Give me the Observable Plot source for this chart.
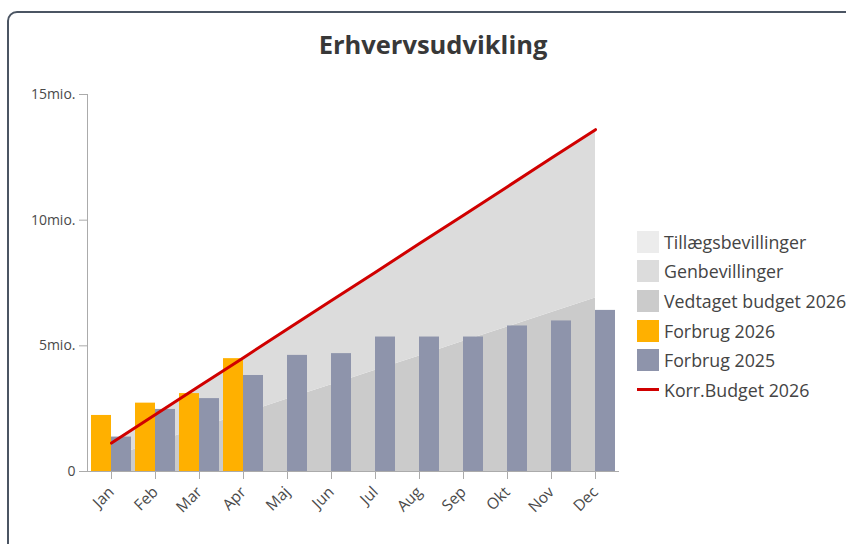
<!DOCTYPE html>
<html>
<head>
<meta charset="utf-8">
<script src="https://cdn.jsdelivr.net/npm/d3@7"></script>
<script src="https://cdn.jsdelivr.net/npm/@observablehq/plot@0.6"></script>
<style>
  html, body { margin: 0; padding: 0; background: #fff; width: 846px; height: 544px; overflow: hidden; }
  body { position: relative; font-family: "Open Sans", "Noto Sans", sans-serif; }
  #frame { position: absolute; left: 7px; top: 11px; width: 900px; height: 600px; border: 2px solid #4b5563; border-radius: 10px; box-sizing: border-box; }
  #title { position: absolute; left: 0; top: 31.5px; width: 866px; text-align: center; font-size: 25.5px; line-height: 1; font-weight: 700; color: #383838; }
  #chart { position: absolute; left: 0; top: 0; }
  #legend { position: absolute; left: 637px; top: 227px; font-size: 17.8px; color: #444; white-space: nowrap; }
  .item { height: 29.6px; display: flex; align-items: center; }
  .sw { width: 22px; height: 22px; margin-right: 5px; flex: none; }
  .ln { width: 22px; height: 3px; margin-right: 5px; flex: none; }
</style>
</head>
<body>
<div id="frame"></div>
<div id="chart"></div>
<div id="title">Erhvervsudvikling</div>
<div id="legend"></div>
<script>
const months = ["Jan","Feb","Mar","Apr","Maj","Jun","Jul","Aug","Sep","Okt","Nov","Dec"];
const vedtaget2026 = [0.58, 1.15, 1.73, 2.30, 2.88, 3.45, 4.03, 4.60, 5.18, 5.75, 6.33, 6.90];
const genbevillinger = [0.55, 1.12, 1.67, 2.23, 2.79, 3.35, 3.90, 4.47, 5.02, 5.58, 6.14, 6.70];
const tillaegsbevillinger = [0, 0, 0, 0, 0, 0, 0, 0, 0, 0, 0, 0];
const korrBudget2026 = [1.13, 2.27, 3.40, 4.53, 5.67, 6.80, 7.93, 9.07, 10.20, 11.33, 12.47, 13.60];
const forbrug2026 = [2.23, 2.72, 3.10, 4.49];
const forbrug2025 = [1.37, 2.47, 2.90, 3.82, 4.62, 4.69, 5.35, 5.35, 5.35, 5.79, 5.99, 6.41];
const yTicks = [0, 5, 10, 15];

const seriesNames = ["Tillægsbevillinger", "Genbevillinger", "Vedtaget budget 2026", "Forbrug 2026", "Forbrug 2025", "Korr.Budget 2026"];
const seriesColors = ["#ececec", "#dcdcdc", "#cbcbcb", "#ffb000", "#8e94ab", "#d00000"];

const areaRows = [];
months.forEach((m, i) => {
  areaRows.push({month: m, series: "Vedtaget budget 2026", value: vedtaget2026[i], order: 0});
  areaRows.push({month: m, series: "Genbevillinger", value: genbevillinger[i], order: 1});
  areaRows.push({month: m, series: "Tillægsbevillinger", value: tillaegsbevillinger[i], order: 2});
});
const f26 = forbrug2026.map((v, i) => ({month: months[i], value: v}));
const f25 = forbrug2025.map((v, i) => ({month: months[i], value: v}));
const korr = korrBudget2026.map((v, i) => ({month: months[i], value: v}));

const chart = Plot.plot({
  width: 846,
  height: 544,
  marginLeft: 87,
  marginRight: 228,
  marginTop: 94,
  marginBottom: 73,
  style: {fontFamily: "'Open Sans', 'Noto Sans', sans-serif", color: "#4a4a4a", background: "transparent"},
  x: {domain: months, padding: 0.1, range: [84.6, 621.4], label: null},
  y: {domain: [0, 15], label: null},
  color: {domain: seriesNames, range: seriesColors},
  marks: [
    Plot.areaY(areaRows, Plot.stackY({x: "month", y: "value", fill: "series", z: "series", order: "order", curve: "linear"})),
    Plot.barY(f26, {x: "month", y: "value", fill: seriesColors[3], insetRight: 20}),
    Plot.barY(f25, {x: "month", y: "value", fill: seriesColors[4], insetLeft: 20}),
    Plot.lineY(korr, {x: "month", y: "value", stroke: seriesColors[5], strokeWidth: 3}),
    Plot.frame({anchor: "left", stroke: "#ababab", strokeOpacity: 1}),
    Plot.frame({anchor: "bottom", stroke: "#ababab", strokeOpacity: 1}),
    Plot.axisY({ticks: yTicks, tickFormat: d => d === 0 ? "0" : d + "mio.", tickSize: 8, tickPadding: 4, fontSize: 14, stroke: "#ababab", label: null}),
    Plot.axisX({tickSize: 8, tickRotate: -45, fontSize: 15.5, tickPadding: 10, stroke: "#ababab", label: null})
  ]
});
document.getElementById("chart").appendChild(chart);

const legend = document.getElementById("legend");
seriesNames.forEach((name, i) => {
  const row = document.createElement("div");
  row.className = "item";
  const sw = document.createElement("div");
  sw.className = i === 5 ? "ln" : "sw";
  sw.style.background = seriesColors[i];
  const t = document.createElement("span");
  t.textContent = name;
  row.appendChild(sw);
  row.appendChild(t);
  legend.appendChild(row);
});
</script>
</body>
</html>
